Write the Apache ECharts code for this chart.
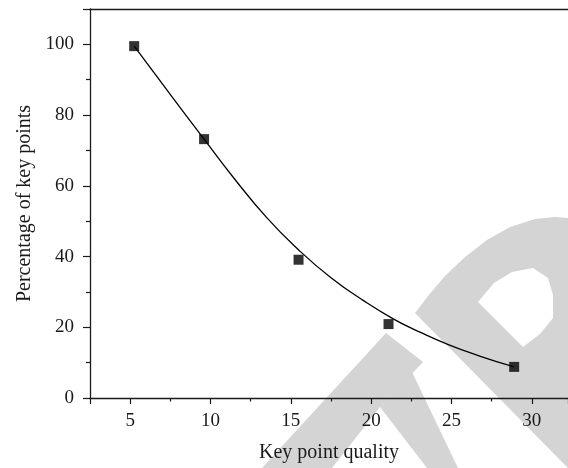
<!DOCTYPE html>
<html>
<head>
<meta charset="utf-8">
<script src="https://cdn.jsdelivr.net/npm/echarts@6/dist/echarts.min.js"></script>
<style>
html,body{margin:0;padding:0;background:#fff;}
#chart{width:568px;height:468px;}
</style>
</head>
<body>
<div id="chart"></div>
<script>
// Measured points
var pointX = [5.25, 9.6, 15.48, 21.08, 28.9];
var pointY = [99.5, 73.2, 39.1, 20.9, 8.8];
// Fitted curve
var curveX = [5.25, 7.4, 9.6, 11.4, 13.5, 15.5, 17.5, 19.5, 21.4, 23.0, 24.8, 26.8, 28.9];
var curveY = [99.5, 86.4, 73.2, 62.5, 51.0, 41.8, 34.0, 27.6, 22.3, 18.7, 15.1, 11.8, 8.8];
var xTitle = "Key point quality";
var yTitle = "Percentage of key points";

var FONT = '"Liberation Serif", "DejaVu Serif", serif';
var AX = '#1a1a1a';
var WM = '#d4d4d4';

function pairs(xs, ys){ return xs.map(function(x,i){ return [x, ys[i]]; }); }

var chart = echarts.init(document.getElementById('chart'), null, {renderer:'canvas'});
chart.setOption({
  animation: false,
  backgroundColor: '#fff',
  graphic: [
    {type:'polygon', z:-10, silent:true, shape:{points:[[262,468],[386,333],[423,362],[380,407],[332,468]]}, style:{fill:WM}},
    {type:'polygon', z:-10, silent:true, shape:{points:[[380,407],[412,372],[458,468],[427,468]]}, style:{fill:WM}},
    {type:'polygon', z:-10, silent:true, shape:{points:[[568,468],[415,313],[428,296],[445,276],[465,257],[487,240],[510,227],[535,219],[555,217],[568,218]]}, style:{fill:WM}},
    {type:'polygon', z:-9, silent:true, shape:{points:[[478,302],[494,283],[512,272],[533,268],[548,278],[553,295],[553,318],[540,334],[523,347]]}, style:{fill:'#fff'}}
  ],
  grid: {left: 90, top: 9, right: 0, bottom: 70, containLabel: false},
  xAxis: [{
    type: 'value', min: 2.5, max: 32.25, minInterval: 5, maxInterval: 5,
    name: xTitle, nameLocation: 'middle', nameGap: 45,
    nameTextStyle: {fontFamily: FONT, fontSize: 20, color: '#1a1a1a'},
    axisLine: {show: true, onZero: false, lineStyle: {color: AX, width: 1.3}},
    axisTick: {show: true, length: 6, lineStyle: {color: AX, width: 1.2}},
    minorTick: {show: true, splitNumber: 2, length: 3.5, lineStyle: {color: AX, width: 1.2}},
    axisLabel: {fontFamily: FONT, fontSize: 19, color: '#1a1a1a', margin: 14, showMinLabel: false, showMaxLabel: false},
    splitLine: {show: false}
  }, {
    type: 'value', position: 'top', min: 2.5, max: 32.25,
    axisLine: {show: true, onZero: false, lineStyle: {color: AX, width: 1.3}},
    axisTick: {show: false}, axisLabel: {show: false}, splitLine: {show: false}
  }],
  yAxis: {
    type: 'value', min: 0, max: 110, interval: 20,
    name: yTitle, nameLocation: 'middle', nameGap: 53, nameRotate: 90,
    nameTextStyle: {fontFamily: FONT, fontSize: 20, color: '#1a1a1a'},
    axisLine: {show: true, onZero: false, lineStyle: {color: AX, width: 1.3}},
    axisTick: {show: true, length: 7, lineStyle: {color: AX, width: 1.2}},
    minorTick: {show: true, splitNumber: 2, length: 4, lineStyle: {color: AX, width: 1.2}},
    axisLabel: {fontFamily: FONT, fontSize: 19, color: '#1a1a1a', margin: 16, showMaxLabel: false},
    splitLine: {show: false}
  },
  series: [{
    type: 'line', data: pairs(curveX, curveY), smooth: 0.5, showSymbol: false,
    lineStyle: {color: '#000', width: 1.3}, z: 3
  }, {
    type: 'scatter', data: pairs(pointX, pointY), symbol: 'rect', symbolSize: 10,
    itemStyle: {color: '#000'}, z: 4
  }]
});
</script>
</body>
</html>
